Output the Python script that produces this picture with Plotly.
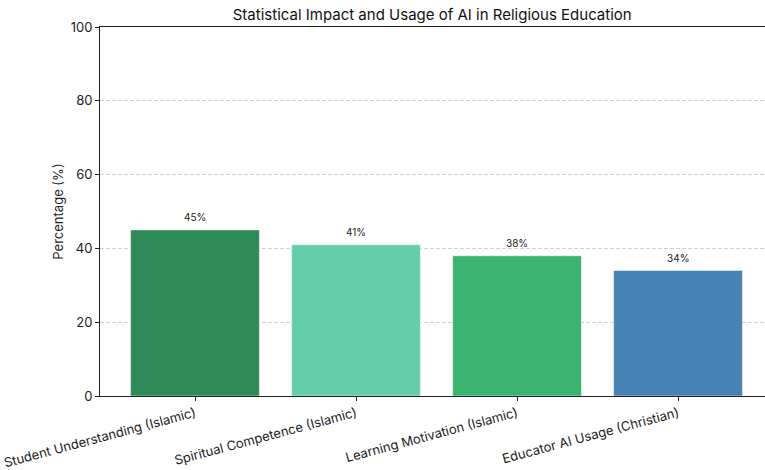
import plotly.graph_objects as go

categories = ["Student Understanding (Islamic)", "Spiritual Competence (Islamic)",
              "Learning Motivation (Islamic)", "Educator AI Usage (Christian)"]
values = [45, 41, 38, 34]
colors = ["#2E8B57", "#66CDAA", "#3CB371", "#4682B4"]
labels = [f"{v}%" for v in values]
xpos = list(range(len(categories)))

font_family = "Inter, Roboto, sans-serif"

fig = go.Figure()
fig.add_trace(go.Bar(
    x=xpos, y=values, width=0.8,
    marker=dict(color=colors, line=dict(color="rgba(255,255,255,0.6)", width=0.8)),
    hoverinfo="skip",
))
for x, v, t in zip(xpos, values, labels):
    fig.add_annotation(x=x, y=v, text=t, showarrow=False, yanchor="bottom", yshift=5,
                       font=dict(size=10, color="#222", family=font_family))

fig.update_layout(
    width=765, height=470,
    margin=dict(l=100, r=0, t=27, b=72),
    plot_bgcolor="white", paper_bgcolor="white",
    font=dict(family=font_family, color="#222"),
    title=dict(text="Statistical Impact and Usage of AI in Religious Education",
               x=0.565, xanchor="center", y=0.98, yanchor="top",
               font=dict(size=15, color="#111")),
    showlegend=False,
    bargap=0.2,
)
fig.update_xaxes(
    range=[-0.59, 3.54], tickmode="array", tickvals=xpos, ticktext=categories,
    tickangle=-15, showgrid=False, showline=True, linecolor="#222", linewidth=1,
    mirror=True, ticks="outside", ticklen=4, tickcolor="#222",
    tickfont=dict(size=13, color="#222"), zeroline=False,
)
fig.update_yaxes(
    range=[0, 100], tickvals=[0, 20, 40, 60, 80, 100],
    showgrid=True, gridcolor="#d0d0d0", griddash="4px,2px", gridwidth=0.8,
    showline=True, linecolor="#222", linewidth=1, ticks="outside", ticklen=4,
    tickcolor="#222", tickfont=dict(size=13, color="#222"), zeroline=False,
    title=dict(text="Percentage (%)", font=dict(size=13, color="#222"), standoff=4),
)

fig.write_html("out.html")
